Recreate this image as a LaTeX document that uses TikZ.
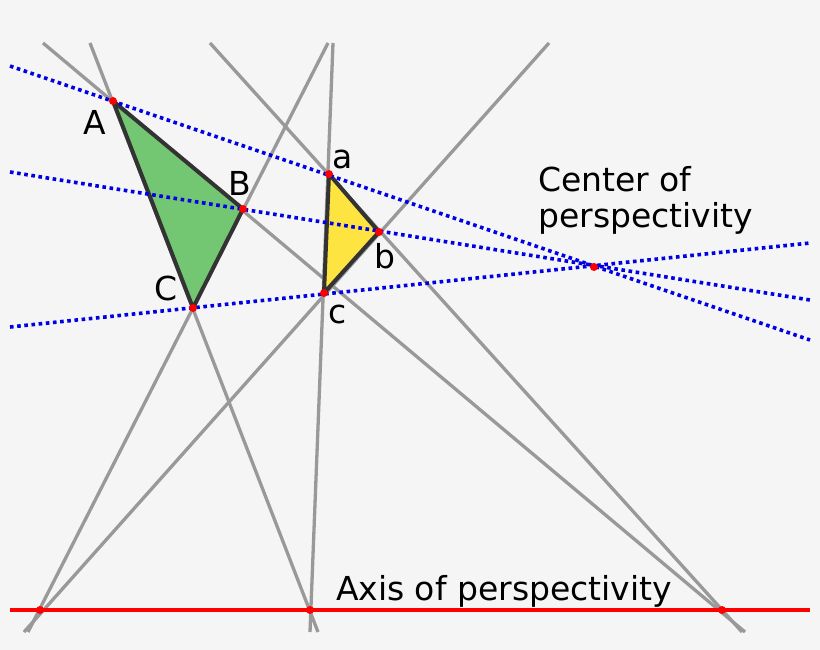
\documentclass[tikz,border=0pt]{standalone}
\usepackage{fontspec}
\setmainfont{DejaVu Sans}
\begin{document}
\begin{tikzpicture}[x=1pt,y=-1pt,
  gray line/.style={draw=gray!80,line width=3.3pt},
  blue line/.style={draw=blue!90!black,line width=3.6pt,dash pattern=on 3.6pt off 3.6pt},
  tri/.style={draw=black!80,line width=4pt,line join=round},
  dot/.style={circle,fill=red,inner sep=0pt,minimum size=8pt},
  lab/.style={font=\fontsize{33}{40}\selectfont,inner sep=0pt}]
\fill[black!4] (0,0) rectangle (820,650);
\useasboundingbox (0,0) rectangle (820,650);
\coordinate (A) at (113,101);
\coordinate (B) at (243,209);
\coordinate (C) at (193,308);
\coordinate (a) at (329,174);
\coordinate (b) at (379,232);
\coordinate (c) at (324,293);
\coordinate (O) at (594,267);
\coordinate (P1) at (40,610);
\coordinate (P2) at (310,610);
\coordinate (P3) at (722,610);
\coordinate (g1s) at (43,43); \coordinate (g1e) at (745,632);
\coordinate (g2s) at (210,43); \coordinate (g2e) at (742,632);
\coordinate (g3s) at (90,43); \coordinate (g3e) at (318,632);
\coordinate (g4s) at (333,43); \coordinate (g4e) at (310,632);
\coordinate (g5s) at (328,43); \coordinate (g5e) at (28,632);
\coordinate (g6s) at (549,43); \coordinate (g6e) at (24,632);
\foreach \i in {1,...,6} \draw[gray line] (g\i s) -- (g\i e);
\coordinate (r1) at (10,610); \coordinate (r2) at (810,610);
\draw[red,line width=3.3pt] (r1) -- (r2);
\filldraw[tri,fill=green!60!black!55!white] (A) -- (B) -- (C) -- cycle;
\filldraw[tri,fill=yellow!80!orange!75!white] (a) -- (b) -- (c) -- cycle;
\coordinate (b1s) at (10,66); \coordinate (b1e) at (810,340);
\coordinate (b2s) at (10,172); \coordinate (b2e) at (810,300);
\coordinate (b3s) at (10,327); \coordinate (b3e) at (810,243);
\foreach \i in {1,2,3} \draw[blue line] (b\i s) -- (b\i e);
\foreach \p in {A,B,C,a,b,c,O,P1,P2,P3} \node[dot] at (\p) {};
\node[lab] (lA) at (95,122) {A};
\node[lab] (lB) at (240,183) {B};
\node[lab] (lC) at (166,288) {C};
\node[lab] (la) at (343,159) {a};
\node[lab] (lb) at (385,256) {b};
\node[lab] (lc) at (338,314) {c};
\node[lab,align=left,anchor=west] (lO) at (538,200) {Center of\\[-4pt]perspectivity};
\node[lab] (lax) at (504,591) {Axis of perspectivity};
\end{tikzpicture}
\end{document}
